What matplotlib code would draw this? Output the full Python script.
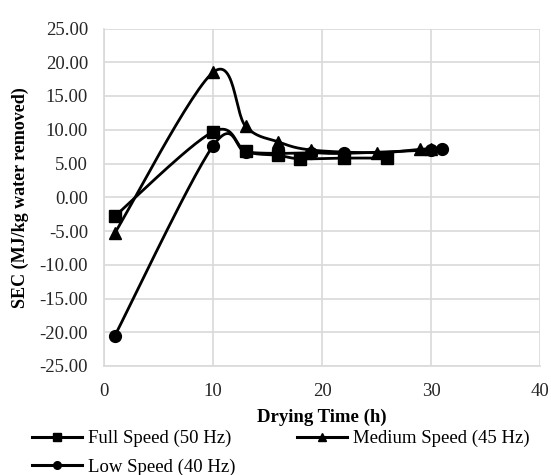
import numpy as np
import matplotlib
matplotlib.use("Agg")
import matplotlib.pyplot as plt
from matplotlib.lines import Line2D

# ---- data ----
full_x = [1, 10, 13, 16, 18, 22, 26]
full_y = [-2.8, 9.7, 6.8, 6.2, 5.7, 5.8, 5.8]
med_x = [1, 10, 13, 16, 19, 25, 29, 30]
med_y = [-5.3, 18.5, 10.5, 8.2, 7.0, 6.6, 7.1, 7.2]
low_x = [1, 10, 13, 16, 19, 22, 30, 31]
low_y = [-20.5, 7.6, 6.7, 6.5, 6.6, 6.5, 7.0, 7.1]
labels = ["Full Speed (50 Hz)", "Medium Speed (45 Hz)", "Low Speed (40 Hz)"]
x_ticks = [0, 10, 20, 30, 40]
y_ticks = [-25, -20, -15, -10, -5, 0, 5, 10, 15, 20, 25]

plt.rcParams['font.family'] = ['Liberation Serif', 'DejaVu Serif']


def smooth(xs, ys, n=30):
    P = np.column_stack([xs, ys]).astype(float)
    out = [P[0]]
    m = len(P)
    for i in range(m - 1):
        p0 = P[i - 1] if i > 0 else P[i]
        p1 = P[i]
        p2 = P[i + 1]
        p3 = P[i + 2] if i + 2 < m else P[i + 1]
        c1 = p1 + (p2 - p0) / 6.0
        c2 = p2 - (p3 - p1) / 6.0
        t = np.linspace(0, 1, n)[1:, None]
        seg = ((1 - t) ** 3) * p1 + 3 * ((1 - t) ** 2) * t * c1 + 3 * (1 - t) * t ** 2 * c2 + t ** 3 * p2
        out.extend(seg)
    out = np.array(out)
    return out[:, 0], out[:, 1]


fig = plt.figure(figsize=(5.51, 4.75), dpi=100)
ax = fig.add_axes([104 / 551, 1 - 366 / 475, (540 - 104) / 551, (366 - 28.5) / 475])

series = [(full_x, full_y, 's', 9), (med_x, med_y, '^', 8.5), (low_x, low_y, 'o', 8.5)]
handles = []
for (xs, ys, mk, ms), lab in zip(series, labels):
    sx, sy = smooth(xs, ys)
    ax.plot(sx, sy, color='black', lw=2.0, zorder=3, solid_capstyle='round')
    ax.plot(xs, ys, linestyle='none', marker=mk, ms=ms, color='black', zorder=4)
    handles.append(Line2D([], [], color='black', lw=2.2, marker=mk, ms=5.5, label=lab))

ax.set_xlim(0, 40)
ax.set_ylim(-25, 25)
ax.set_xticks(x_ticks)
ax.set_yticks(y_ticks)
ax.set_yticklabels([f"{v:.2f}" for v in y_ticks])
ax.grid(True, color='#d9d9d9', lw=1.2, zorder=0)
ax.set_axisbelow(True)
for s in ['top', 'right']:
    ax.spines[s].set_visible(False)
for s in ['left', 'bottom']:
    ax.spines[s].set_color('#d9d9d9')
    ax.spines[s].set_linewidth(1.2)
ax.tick_params(length=0, labelsize=13.5, colors='#262626')
ax.tick_params(axis='x', pad=12)
ax.tick_params(axis='y', pad=11.5)
ax.set_xlabel("Drying Time (h)", fontsize=13.5, fontweight='bold')
ax.set_ylabel("SEC (MJ/kg water removed)", fontsize=13, fontweight='bold')
# label positions (axes fraction)
h_px = 366 - 28.5
w_px = 540 - 104
ax.xaxis.set_label_coords(0.5, -(417 - 366) / h_px)
ax.xaxis.label.set_va('center')
ax.yaxis.set_label_coords(-(104 - 20) / w_px, 0.5)
ax.yaxis.label.set_va('center')

order = [handles[0], handles[2], handles[1]]
fig.legend(handles=order, loc='upper left', bbox_to_anchor=(32 / 551, 1 - 430 / 475),
           ncol=2, frameon=False, fontsize=13.5, handlelength=2.67, handletextpad=0.3,
           columnspacing=3.3, labelspacing=0.6, borderaxespad=0, borderpad=0)

fig.savefig("out.png", dpi=100)
